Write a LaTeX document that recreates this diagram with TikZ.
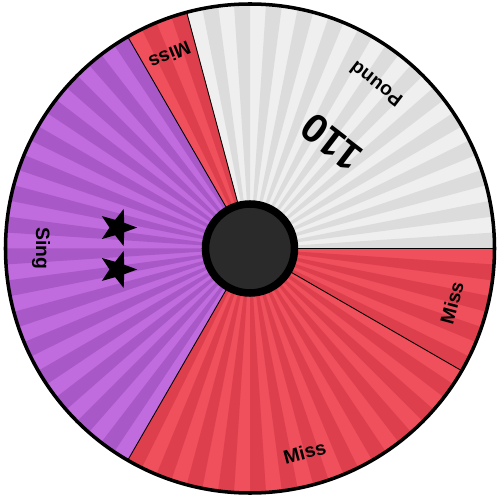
\documentclass[tikz,border=0pt]{standalone}
\usepackage{fontspec}
\setmainfont{Liberation Sans}
\usetikzlibrary{shapes.geometric}

\definecolor{greylt}{HTML}{EFEFEF}
\definecolor{greydk}{HTML}{DCDCDC}
\definecolor{redlt}{HTML}{F04F5C}
\definecolor{reddk}{HTML}{DE3F4D}
\definecolor{purplt}{HTML}{C06BDE}
\definecolor{purpdk}{HTML}{A958C8}
\definecolor{hubgrey}{HTML}{2A2A2A}

\tikzset{
  seglabel/.style={font=\bfseries\fontsize{11}{11}\selectfont,inner sep=0pt},
  bigvalue/.style={font=\bfseries\fontsize{23}{23}\selectfont,inner sep=0pt},
  starmark/.style={star,star points=5,star point ratio=2.4,fill=black,inner sep=0pt,minimum size=0.78cm,rotate=-90},
  divider/.style={black,line width=0.5pt}
}

\begin{document}
\begin{tikzpicture}[x=0.02cm,y=0.02cm]
\useasboundingbox (-250,-251.5) rectangle (250,248.5);
\foreach \a/\b/\lt/\dk in {0/105/greylt/greydk,105/120/redlt/reddk,120/240/purplt/purpdk,240/330/redlt/reddk,330/360/redlt/reddk}{
  \fill[\lt] (0,0) -- (\a:244.5) arc[start angle=\a,end angle=\b,radius=244.5] -- cycle;
  \pgfmathsetmacro\nxt{\a+7.5}
  \pgfmathsetmacro\last{\b-7.5}
  \foreach \s in {\a,\nxt,...,\last}{
    \fill[\dk] (0,0) -- (\s:244.5) arc[start angle=\s,delta angle=3.75,radius=244.5] -- cycle;}
}
\foreach \a in {0,105,120,240,330}{
  \draw[divider] (0,0) -- (\a:244.5);}
\draw[line width=2pt] (0,0) circle[radius=244.5];
\node[circle,fill=hubgrey,draw=black,line width=4.3pt,minimum size=1.78cm,inner sep=0pt] (hub) at (0,0) {};
% labels, top of text toward the hub
\node[seglabel,rotate=142.5] (pound) at (52.5:207) {Pound};
\node[bigvalue,rotate=142.5] (value) at (52.5:134) {110};
\node[seglabel,rotate=202.5] (misstop) at (112.5:209) {Miss};
\node[seglabel,rotate=270] (sing) at (180:209) {Sing};
\node[seglabel,rotate=15] (missbottom) at (285:211) {Miss};
\node[seglabel,rotate=75] (missright) at (345:209) {Miss};
\node[starmark] (star1) at (171:134) {};
\node[starmark] (star2) at (189:134) {};
\end{tikzpicture}
\end{document}
